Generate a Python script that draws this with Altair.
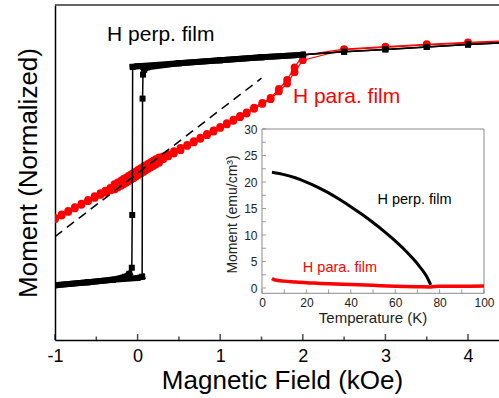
import altair as alt
import numpy as np
import pandas as pd

RED = "#ff0000"
FONT = "Liberation Sans"

# ---------------- main panel: normalized moment vs field (kOe) ----------------
# H perpendicular to the film, descending branch
perp_down_h = [4.6, 4.0, 3.5, 3.0, 2.5, 2.0, 1.5, 1.0, 0.5, 0.0, -0.06,
               -0.065, -0.07, -0.1, -0.15, -0.3, -0.6, -1.0]
perp_down_m = [1.09, 1.07, 1.05, 1.03, 1.01, 0.985, 0.965, 0.94, 0.915, 0.89, 0.885,
               -0.35, -0.79, -0.84, -0.865, -0.89, -0.91, -0.935]
# H perpendicular to the film, ascending branch
perp_up_h = [-1.0, -0.6, -0.3, 0.0, 0.055, 0.06, 0.065, 0.08, 0.12, 0.5, 1.0,
             1.5, 2.0, 2.5, 3.0, 3.5, 4.0, 4.6]
perp_up_m = [-0.935, -0.91, -0.89, -0.875, -0.865, 0.62, 0.82, 0.86, 0.88, 0.915, 0.94,
             0.965, 0.985, 1.01, 1.03, 1.05, 1.07, 1.09]

# H parallel to the film: field steps shared by both branches
para_h = [-1.0, -0.92, -0.84, -0.76, -0.68, -0.60, -0.52, -0.45, -0.39, -0.33,
          -0.28, -0.24, -0.20, -0.17, -0.14, -0.11, -0.08, -0.05, -0.02, 0.01,
          0.04, 0.07, 0.10, 0.13, 0.16, 0.19, 0.22, 0.26, 0.31, 0.37,
          0.44, 0.52, 0.60, 0.68, 0.76, 0.84, 0.92, 1.00, 1.08, 1.16,
          1.24, 1.32, 1.41, 1.51, 1.61, 1.71, 1.81, 1.90, 2.00, 2.5,
          3.0, 3.5, 4.0, 4.5]
para_down_m = [-0.375, -0.345, -0.315, -0.285, -0.255, -0.225, -0.192, -0.167, -0.147, -0.125,
               -0.093, -0.078, -0.063, -0.050, -0.038, -0.025, -0.012, 0.001, 0.014, 0.027,
               0.040, 0.053, 0.066, 0.079, 0.091, 0.103, 0.115, 0.130, 0.139, 0.158,
               0.182, 0.210, 0.235, 0.265, 0.295, 0.325, 0.355, 0.385, 0.415, 0.445,
               0.475, 0.505, 0.545, 0.585, 0.625, 0.700, 0.775, 0.880, 0.980, 1.033,
               1.053, 1.073, 1.088, 1.103]
para_up_m = [-0.385, -0.355, -0.325, -0.295, -0.265, -0.235, -0.208, -0.183, -0.163, -0.145,
             -0.137, -0.122, -0.107, -0.094, -0.082, -0.069, -0.056, -0.043, -0.030, -0.017,
             -0.004, 0.009, 0.022, 0.035, 0.047, 0.059, 0.071, 0.086, 0.115, 0.138,
             0.162, 0.190, 0.225, 0.255, 0.285, 0.315, 0.345, 0.375, 0.405, 0.435,
             0.465, 0.495, 0.535, 0.575, 0.615, 0.680, 0.745, 0.840, 0.940, 1.027,
             1.047, 1.067, 1.082, 1.097]

# dashed linear guide
guide_h = [-1.0, 1.5]
guide_m = [-0.53, 0.79]

# ---------------- inset: moment (emu/cm^3) vs temperature (K) ----------------
perp_t = [4.5, 10, 15, 20, 25, 30, 35, 40, 45, 50, 55, 60, 65, 68, 71, 74, 76]
perp_moment = [21.85, 21.4, 20.8, 20.0, 19.05, 17.95, 16.7, 15.35, 13.9, 12.35, 10.7,
               8.9, 6.9, 5.55, 4.05, 2.3, 0.6]
para_t = [4.5, 6, 10, 15, 20, 25, 30, 40, 50, 60, 70, 76, 80, 90, 100]
para_moment = [1.8, 1.5, 1.3, 1.15, 1.0, 0.9, 0.8, 0.65, 0.5, 0.35, 0.25, 0.2, 0.35, 0.35, 0.4]

# axis ticks
field_labels = [-1, 0, 1, 2, 3, 4]
field_minor = [-0.5, 0.5, 1.5, 2.5, 3.5]
temp_labels = [0, 20, 40, 60, 80, 100]
temp_ticks = [0, 10, 20, 30, 40, 50, 60, 70, 80, 90, 100]
mom_labels = [0, 5, 10, 15, 20, 25, 30]
mom_ticks = [0, 2.5, 5, 7.5, 10, 12.5, 15, 17.5, 20, 22.5, 25, 27.5, 30]

# ---------------- layout ----------------
W, H = 444, 335
H_DOM = [-1.0, 4.375]
M_DOM = [-1.392, 1.4]
T_DOM = [-93.24, 106.76]
I_DOM = [-9.81, 53.40]
T_BOX = [0, 100]
I_BOX = [-1, 30]

# ---------------- tables ----------------
perp = pd.concat([
    pd.DataFrame({"h": perp_down_h, "m": perp_down_m, "branch": "down"}),
    pd.DataFrame({"h": perp_up_h, "m": perp_up_m, "branch": "up"}),
], ignore_index=True)
perp["idx"] = np.arange(len(perp))
band = perp[(perp["m"].abs() >= 0.84) & (perp["h"] <= 2.01)].copy()
band["seg"] = band["branch"] + np.where(band["m"] > 0, "+", "-")

para = pd.concat([
    pd.DataFrame({"h": para_h, "m": para_down_m, "branch": "down"}),
    pd.DataFrame({"h": para_h, "m": para_up_m, "branch": "up"}),
], ignore_index=True)

guide = pd.DataFrame({"h": guide_h, "m": guide_m})

main_text = pd.DataFrame({
    "h": [0.28, 2.53], "m": [1.15, 0.63],
    "label": ["H perp. film", "H para. film"], "c": ["black", RED],
})

major_ticks = pd.DataFrame({"h": field_labels, "m": M_DOM[0]})
minor_ticks = pd.DataFrame({"h": field_minor, "m": M_DOM[0]})
top_edge = pd.DataFrame({"h": [H_DOM[0]], "h2": [H_DOM[1]], "m": [M_DOM[1]]})

inset_perp = pd.DataFrame({"temp": perp_t, "mom": perp_moment})
inset_para = pd.DataFrame({"temp": para_t, "mom": para_moment})
inset_box = pd.DataFrame({"temp": [T_BOX[0]], "temp2": [T_BOX[1]],
                          "mom": [I_BOX[0]], "mom2": [I_BOX[1]]})
inset_text = pd.DataFrame({
    "temp": [68.7, 35.1], "mom": [16.7, 3.8],
    "label": ["H perp. film", "H para. film"], "c": ["black", RED],
})
inset_xticks = pd.DataFrame({"temp": temp_ticks, "mom": I_BOX[0]})
inset_yticks = pd.DataFrame({"temp": T_BOX[0], "mom": mom_ticks})

# ---------------- encodings ----------------
x_main = alt.X(
    "h:Q", title="Magnetic Field (kOe)",
    scale=alt.Scale(domain=H_DOM, nice=False, zero=False),
    axis=alt.Axis(orient="bottom", values=field_labels, ticks=False, grid=False,
                  labelFontSize=18, labelPadding=7, labelColor="black", labelFlush=False,
                  labelExpr="replace(datum.label, '\u2212', '-')",
                  domainColor="black", domainWidth=1.5,
                  titleFontSize=26, titleFontWeight="normal", titleColor="black",
                  titlePadding=2, titleX=227),
)
y_main = alt.Y(
    "m:Q", title="Moment (Normalized)",
    scale=alt.Scale(domain=M_DOM, nice=False, zero=False),
    axis=alt.Axis(orient="left", labels=False, ticks=False, grid=False,
                  domainColor="black", domainWidth=1.5,
                  titleFontSize=26, titleFontWeight="normal", titleColor="black",
                  titlePadding=14),
)
x_in = alt.X(
    "temp:Q", title="Temperature (K)",
    scale=alt.Scale(domain=T_DOM, nice=False, zero=False),
    axis=alt.Axis(orient="bottom", offset=-47, values=temp_labels, domain=False, ticks=False,
                  grid=False, labelFontSize=12, labelPadding=4, labelColor="#222",
                  labelFlush=False, titleFontSize=15, titleFontWeight="normal",
                  titleColor="#222", titlePadding=2, titleX=317.5, zindex=2),
)
y_in = alt.Y(
    "mom:Q", title="Moment (emu/cm\u00b3)",
    scale=alt.Scale(domain=I_DOM, nice=False, zero=False),
    axis=alt.Axis(orient="left", offset=-206, values=mom_labels, domain=False, ticks=False,
                  grid=False, labelFontSize=12, labelPadding=4, labelColor="#222",
                  labelFlush=False, titleFontSize=14, titleFontWeight="normal",
                  titleColor="#222", titlePadding=4, titleY=209, zindex=2),
)

# ---------------- main layers ----------------
para_line = alt.Chart(para).mark_line(color=RED, strokeWidth=1.2, clip=True).encode(
    x=x_main, y=y_main, detail="branch:N", order="h:Q")
para_pts = alt.Chart(para).mark_circle(color=RED, size=60, opacity=1, clip=True).encode(
    x=x_main, y=y_main)
guide_line = alt.Chart(guide).mark_line(color="black", strokeWidth=1.5,
                                        strokeDash=[9, 6], clip=True).encode(x=x_main, y=y_main)
perp_line = alt.Chart(perp).mark_line(color="black", strokeWidth=1.5, clip=True).encode(
    x=x_main, y=y_main, detail="branch:N", order="idx:Q")
perp_band = alt.Chart(band).mark_line(color="black", strokeWidth=6, strokeCap="square",
                                      clip=True).encode(
    x=x_main, y=y_main, detail="seg:N", order="idx:Q")
perp_pts = alt.Chart(perp).mark_square(color="black", size=36, opacity=1, clip=True).encode(
    x=x_main, y=y_main)
main_labels = alt.Chart(main_text).mark_text(fontSize=21, align="center",
                                             baseline="middle").encode(
    x=x_main, y=y_main, text="label:N", color=alt.Color("c:N", scale=None))
tick_major = alt.Chart(major_ticks).mark_tick(orient="vertical", size=6, thickness=1.5,
                                              yOffset=-3, color="black").encode(x=x_main, y=y_main)
tick_minor = alt.Chart(minor_ticks).mark_tick(orient="vertical", size=3.5, thickness=1.5,
                                              yOffset=-1.75, color="black").encode(x=x_main, y=y_main)
top_rule = alt.Chart(top_edge).mark_rule(color="#333", strokeWidth=1.5).encode(
    x=x_main, x2="h2:Q", y=y_main)

main = alt.layer(para_line, para_pts, guide_line, perp_line, perp_band, perp_pts,
                 main_labels, tick_major, tick_minor, top_rule)

# ---------------- inset layers ----------------
box = alt.Chart(inset_box).mark_rect(fill="white", stroke="#8a8a8a", strokeWidth=1).encode(
    x=x_in, x2="temp2:Q", y=y_in, y2="mom2:Q")
in_perp = alt.Chart(inset_perp).mark_line(color="black", strokeWidth=3,
                                          interpolate="monotone").encode(
    x=x_in, y=y_in, order="temp:Q")
in_para = alt.Chart(inset_para).mark_line(color=RED, strokeWidth=3.5,
                                          interpolate="monotone").encode(
    x=x_in, y=y_in, order="temp:Q")
in_labels = alt.Chart(inset_text).mark_text(fontSize=14.5, align="center",
                                            baseline="middle").encode(
    x=x_in, y=y_in, text="label:N", color=alt.Color("c:N", scale=None))
in_xt = alt.Chart(inset_xticks).mark_tick(orient="vertical", size=4, thickness=1,
                                          yOffset=-2, color="#777").encode(x=x_in, y=y_in)
in_yt = alt.Chart(inset_yticks).mark_tick(orient="horizontal", size=4, thickness=1,
                                          xOffset=2, color="#777").encode(x=x_in, y=y_in)

inset = alt.layer(box, in_perp, in_para, in_labels, in_xt, in_yt)

chart = (
    alt.layer(main, inset)
    .resolve_scale(x="independent", y="independent")
    .properties(width=W, height=H,
                padding={"left": 55, "top": 5, "right": 0, "bottom": 58},
                autosize=alt.AutoSizeParams(type="none"))
    .configure(font=FONT)
    .configure_view(stroke=None)
    .configure_axis(grid=False)
)

chart.save("out.html", embed_options={"renderer": "svg", "actions": False})
